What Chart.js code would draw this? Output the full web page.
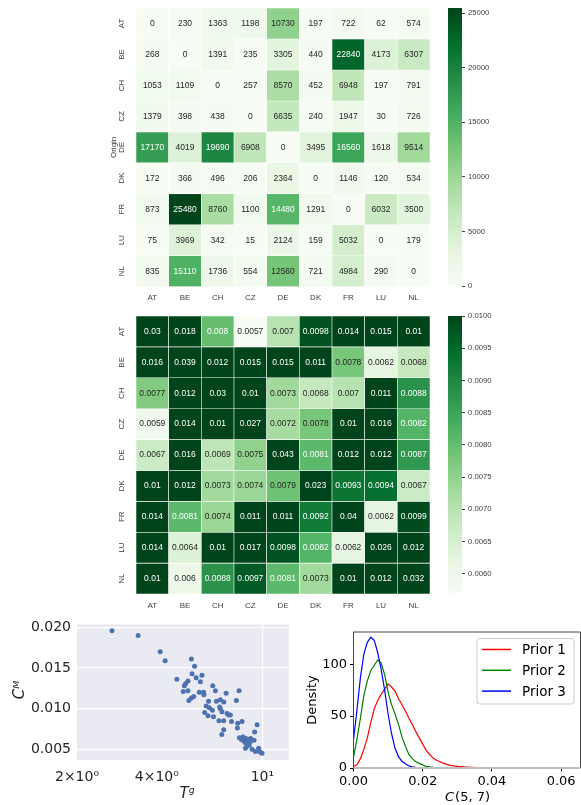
<!DOCTYPE html>
<html>
<head>
<meta charset="utf-8">
<script src="https://cdn.jsdelivr.net/npm/chart.js@4.4.0/dist/chart.umd.min.js"></script>
<style>
  body { margin: 0; background: #fff; }
  #page { position: relative; width: 581px; height: 805px; overflow: hidden; }
  #page canvas { position: absolute; }
</style>
</head>
<body>
<div id="page">
  <canvas id="flowHeat" width="340" height="305" style="left:100px;top:0px"></canvas>
  <canvas id="flowBar" width="100" height="305" style="left:440px;top:0px"></canvas>
  <canvas id="costHeat" width="340" height="310" style="left:100px;top:305px"></canvas>
  <canvas id="costBar" width="100" height="310" style="left:440px;top:305px"></canvas>
  <canvas id="scatter" width="300" height="195" style="left:0px;top:610px"></canvas>
  <canvas id="density" width="291" height="195" style="left:290px;top:610px"></canvas>
</div>
<script>
const countries = ['AT', 'BE', 'CH', 'CZ', 'DE', 'DK', 'FR', 'LU', 'NL'];

// rows = origin, columns = destination
const flowMatrix = [
  [0, 230, 1363, 1198, 10730, 197, 722, 62, 574],
  [268, 0, 1391, 235, 3305, 440, 22840, 4173, 6307],
  [1053, 1109, 0, 257, 8570, 452, 6948, 197, 791],
  [1379, 398, 438, 0, 6635, 240, 1947, 30, 726],
  [17170, 4019, 19690, 6908, 0, 3495, 16560, 1618, 9514],
  [172, 366, 496, 206, 2364, 0, 1146, 120, 534],
  [873, 25480, 8760, 1100, 14480, 1291, 0, 6032, 3500],
  [75, 3969, 342, 15, 2124, 159, 5032, 0, 179],
  [835, 15110, 1736, 554, 12560, 721, 4984, 290, 0]
];
const flowTicks = [0, 5000, 10000, 15000, 20000, 25000];

const costMatrix = [
  [0.03, 0.018, 0.008, 0.0057, 0.007, 0.0098, 0.014, 0.015, 0.01],
  [0.016, 0.039, 0.012, 0.015, 0.015, 0.011, 0.0078, 0.0062, 0.0068],
  [0.0077, 0.012, 0.03, 0.01, 0.0073, 0.0068, 0.007, 0.011, 0.0088],
  [0.0059, 0.014, 0.01, 0.027, 0.0072, 0.0078, 0.01, 0.016, 0.0082],
  [0.0067, 0.016, 0.0069, 0.0075, 0.043, 0.0081, 0.012, 0.012, 0.0087],
  [0.01, 0.012, 0.0073, 0.0074, 0.0079, 0.023, 0.0093, 0.0094, 0.0067],
  [0.014, 0.0081, 0.0074, 0.011, 0.011, 0.0092, 0.04, 0.0062, 0.0099],
  [0.014, 0.0064, 0.01, 0.017, 0.0098, 0.0082, 0.0062, 0.026, 0.012],
  [0.01, 0.006, 0.0088, 0.0097, 0.0081, 0.0073, 0.01, 0.012, 0.032]
];
const costTicks = [0.006, 0.0065, 0.007, 0.0075, 0.008, 0.0085, 0.009, 0.0095, 0.01];

// scatter: T^g vs C^M
const tgValues = [2.71, 3.40, 4.12, 4.30, 4.76, 5.40, 5.55, 5.43, 5.92, 5.63,
  5.24, 5.14, 5.08, 5.84, 5.03, 5.24, 6.50, 6.65, 5.51, 5.40,
  5.28, 5.78, 6.00, 6.02, 7.30, 8.17, 7.98, 6.27, 6.71, 6.94,
  7.15, 6.14, 6.31, 6.90, 6.94, 6.48, 7.04, 7.36, 7.46, 7.57,
  6.06, 6.24, 6.54, 6.86, 7.15, 7.65, 8.07, 8.38, 7.15, 7.03,
  8.05, 9.55, 9.35, 8.19, 8.33, 8.50, 8.67, 8.86, 9.03, 9.30,
  8.63, 8.82, 8.92, 8.75, 8.63, 9.14, 9.41, 9.68, 9.63, 9.97,
  9.83, 8.45, 9.00, 8.95];
const cmValues = [0.0196, 0.0190, 0.0170, 0.0159, 0.0136, 0.0161, 0.0152, 0.0143, 0.0141, 0.0138,
  0.0134, 0.0131, 0.0128, 0.0133, 0.0121, 0.0122, 0.0128, 0.0122, 0.0115, 0.0113,
  0.0110, 0.0120, 0.0120, 0.0117, 0.0119, 0.0122, 0.0110, 0.0109, 0.0109, 0.0111,
  0.0108, 0.0103, 0.0101, 0.0102, 0.0100, 0.0098, 0.0096, 0.0094, 0.0092, 0.0092,
  0.0095, 0.0091, 0.0090, 0.0085, 0.0085, 0.0084, 0.0082, 0.0084, 0.0074, 0.0068,
  0.0076, 0.0080, 0.0071, 0.0064, 0.0062, 0.0060, 0.0063, 0.0062, 0.0063, 0.0061,
  0.0058, 0.0057, 0.0055, 0.0054, 0.0051, 0.0050, 0.0047, 0.0051, 0.0048, 0.0045,
  0.0046, 0.0065, 0.0059, 0.0061];
const tgTicks = [2, 4, 10];
const tgTickText = ['2×10⁰', '4×10⁰', '10¹'];
const cmTicks = [0.005, 0.010, 0.015, 0.020];

// density of C(5, 7) under three priors
const densityX = [0, 0.001, 0.002, 0.003, 0.004, 0.005, 0.006, 0.007, 0.008, 0.009,
  0.010, 0.011, 0.012, 0.013, 0.014, 0.015, 0.016, 0.017, 0.018, 0.019,
  0.020, 0.021, 0.022, 0.023, 0.024, 0.025, 0.026, 0.027, 0.028, 0.029,
  0.030, 0.032, 0.034, 0.036, 0.038, 0.040, 0.045, 0.050, 0.055, 0.062];
const prior1 = [1.5, 3, 9, 18, 29, 44, 57, 65, 71, 76,
  81, 78, 74, 67, 61, 55, 48, 42, 35, 29,
  23, 17, 13, 9.5, 7.5, 6, 4.5, 3.5, 2.6, 2,
  1.5, 1, 0.7, 0.4, 0.3, 0.2, 0.1, 0.05, 0.05, 0];
const prior2 = [10, 28, 48, 70, 84, 94, 99, 104, 101, 90,
  73, 61, 52, 42, 30, 21, 13, 9, 6, 4.5,
  3, 1.5, 1, 0.6, 0.4, 0.3, 0.2, 0.2, 0.1, 0.1,
  0.1, 0.05, 0.05, 0, 0, 0];
const prior3 = [27, 56, 87, 110, 121, 126, 123, 111, 95, 75,
  52, 33, 19, 11, 6.5, 4, 2, 1.2, 0.7, 0.4,
  0.3, 0.2, 0.1, 0.1, 0.05, 0.05, 0, 0, 0, 0,
  0, 0, 0, 0, 0, 0];
const priorNames = ['Prior 1', 'Prior 2', 'Prior 3'];

const greensHex = ['#f7fcf5', '#e5f5e0', '#c7e9c0', '#a1d99b', '#74c476', '#41ab5d', '#238b45', '#006d2c', '#00441b'];

function hexRgb(h) {
  return [1, 3, 5].map(i => parseInt(h.slice(i, i + 2), 16));
}

function greens(t) {
  t = Math.max(0, Math.min(1, t));
  const s = t * 8;
  const i = Math.min(7, Math.floor(s));
  const f = s - i;
  const a = hexRgb(greensHex[i]);
  const b = hexRgb(greensHex[i + 1]);
  return a.map((v, k) => Math.round(v + (b[k] - v) * f));
}

function luminance(c) {
  const lin = c.map(v => {
    v = v / 255;
    return v <= 0.03928 ? v / 12.92 : Math.pow((v + 0.055) / 1.055, 2.4);
  });
  return 0.2126 * lin[0] + 0.7152 * lin[1] + 0.0722 * lin[2];
}

const rgb = c => `rgb(${c[0]},${c[1]},${c[2]})`;

function heatmap(id, values, vmin, vmax, fmt, top, xHeight, xPad, yTitle) {
  const colorOf = v => greens((v - vmin) / (vmax - vmin));

  const datasets = values.map((row, r) => ({
    data: row.map(() => [r, r + 1]),
    backgroundColor: row.map(v => rgb(colorOf(v))),
    borderColor: '#ffffff',
    borderWidth: 0.6,
    borderSkipped: false,
    categoryPercentage: 1,
    barPercentage: 1,
    grouped: false
  }));

  const annotate = {
    id: 'annotate',
    afterDatasetsDraw(chart) {
      const ctx = chart.ctx;
      ctx.save();
      ctx.textAlign = 'center';
      ctx.textBaseline = 'middle';
      ctx.font = '8.5px "Liberation Sans", Arial, sans-serif';
      values.forEach((row, r) => {
        const meta = chart.getDatasetMeta(r);
        row.forEach((v, c) => {
          const p = meta.data[c].getCenterPoint();
          ctx.fillStyle = luminance(colorOf(v)) > 0.408 ? '#262626' : '#ffffff';
          ctx.fillText(fmt(v), p.x, p.y);
        });
      });
      // rotated row labels
      const ys = chart.scales.y;
      const x = chart.chartArea.left - 14;
      ctx.fillStyle = '#404040';
      ctx.font = '8px "Liberation Sans", Arial, sans-serif';
      countries.forEach((lab, r) => {
        ctx.save();
        ctx.translate(x, ys.getPixelForValue(r + 0.5));
        ctx.rotate(-Math.PI / 2);
        ctx.fillText(lab, 0, 0);
        ctx.restore();
      });
      if (yTitle) {
        ctx.save();
        ctx.translate(x - 8, ys.getPixelForValue(4.5));
        ctx.rotate(-Math.PI / 2);
        ctx.fillText(yTitle, 0, 0);
        ctx.restore();
      }
      ctx.restore();
    }
  };

  return new Chart(document.getElementById(id), {
    type: 'bar',
    data: { labels: countries, datasets },
    options: {
      responsive: false,
      animation: false,
      devicePixelRatio: 1,
      layout: { padding: { top: top, right: 10, left: 0, bottom: 0 } },
      plugins: { legend: { display: false }, tooltip: { enabled: false } },
      scales: {
        x: {
          grid: { display: false, drawTicks: false },
          border: { display: false },
          ticks: {
            font: { family: 'Liberation Sans', size: 8 },
            color: '#404040',
            padding: xPad,
            maxRotation: 0
          },
          afterFit: s => { s.height = xHeight; }
        },
        y: {
          min: 0,
          max: 9,
          reverse: true,
          grid: { display: false, drawTicks: false },
          border: { display: false },
          ticks: { display: false },
          afterFit: s => { s.width = 36; }
        }
      }
    },
    plugins: [annotate]
  });
}

function colorbar(id, vmin, vmax, ticks, fmt, top, bottom) {
  return new Chart(document.getElementById(id), {
    type: 'bar',
    data: {
      labels: [''],
      datasets: [{
        data: [[vmin, vmax]],
        backgroundColor: c => {
          const a = c.chart.chartArea;
          if (!a) return greensHex[0];
          const g = c.chart.ctx.createLinearGradient(0, a.bottom, 0, a.top);
          greensHex.forEach((h, i) => g.addColorStop(i / 8, h));
          return g;
        },
        borderWidth: 0,
        categoryPercentage: 1,
        barPercentage: 1
      }]
    },
    options: {
      responsive: false,
      animation: false,
      devicePixelRatio: 1,
      layout: { padding: { top: top, bottom: bottom, left: 8, right: 0 } },
      plugins: { legend: { display: false }, tooltip: { enabled: false } },
      scales: {
        x: { display: false },
        y: {
          position: 'right',
          min: vmin,
          max: vmax,
          grid: { drawOnChartArea: false, drawTicks: true, tickLength: 3, color: '#404040' },
          border: { display: false },
          ticks: {
            font: { family: 'Liberation Sans', size: 7.7 },
            color: '#404040',
            padding: 3,
            callback: fmt
          },
          afterBuildTicks: s => { s.ticks = ticks.map(v => ({ value: v })); },
          afterFit: s => { s.width = 78; }
        }
      }
    }
  });
}

heatmap('flowHeat', flowMatrix, 0, 25480, v => String(v), 8, 18.3, 6, 'Origin');
colorbar('flowBar', 0, 25480, flowTicks, v => String(v), 8, 19);

heatmap('costHeat', costMatrix, 0.0057, 0.01, v => String(v), 11, 21, 7, null);
colorbar('costBar', 0.0057, 0.01, costTicks, v => v.toFixed(4), 11, 22);

// --- scatter, seaborn darkgrid look ---
const darkBg = {
  id: 'darkBg',
  beforeDraw(chart) {
    const { ctx, chartArea: a } = chart;
    ctx.save();
    ctx.fillStyle = '#eaeaf2';
    ctx.fillRect(a.left, a.top, a.right - a.left, a.bottom - a.top);
    ctx.restore();
  }
};

const scatterTitles = {
  id: 'scatterTitles',
  afterDraw(chart) {
    const ctx = chart.ctx;
    ctx.save();
    ctx.fillStyle = '#262626';
    ctx.font = 'italic 15px "DejaVu Sans"';
    ctx.textAlign = 'center';
    ctx.textBaseline = 'middle';
    ctx.fillText('Tᵍ', 187, 184);
    ctx.translate(20, 80);
    ctx.rotate(-Math.PI / 2);
    ctx.fillText('Cᴹ', 0, 0);
    ctx.restore();
  }
};

new Chart(document.getElementById('scatter'), {
  type: 'scatter',
  data: {
    datasets: [{
      data: tgValues.map((x, i) => ({ x, y: cmValues[i] })),
      backgroundColor: '#4c72b0',
      borderColor: '#4c72b0',
      borderWidth: 0,
      pointRadius: 2.5
    }]
  },
  options: {
    responsive: false,
    animation: false,
    devicePixelRatio: 1,
    layout: { padding: { top: 13, right: 11, left: 0, bottom: 0 } },
    plugins: { legend: { display: false }, tooltip: { enabled: false } },
    scales: {
      x: {
        type: 'logarithmic',
        min: 2,
        max: 12.6,
        afterBuildTicks: s => { s.ticks = tgTicks.map(v => ({ value: v })); },
        ticks: {
          callback: (v, i) => tgTickText[i],
          font: { family: 'DejaVu Sans', size: 14 },
          color: '#262626',
          padding: 9,
          autoSkip: false,
          maxRotation: 0
        },
        grid: {
          color: c => (c.tick && c.tick.value === 10) ? '#ffffff' : 'rgba(0,0,0,0)',
          lineWidth: 1.2,
          drawTicks: false
        },
        border: { display: false },
        afterFit: s => { s.height = 45; }
      },
      y: {
        min: 0.00366,
        max: 0.02037,
        afterBuildTicks: s => { s.ticks = cmTicks.map(v => ({ value: v })); },
        ticks: {
          callback: v => v.toFixed(3),
          font: { family: 'DejaVu Sans', size: 14 },
          color: '#262626',
          padding: 6
        },
        grid: { color: '#ffffff', lineWidth: 1.2, drawTicks: false },
        border: { display: false },
        afterFit: s => { s.width = 77; }
      }
    }
  },
  plugins: [darkBg, scatterTitles]
});

// --- density plot, plain matplotlib look ---
const priorColors = ['#ff0000', '#008000', '#0000ff'];
const priorSeries = [prior1, prior2, prior3];

const densityDecor = {
  id: 'densityDecor',
  afterDraw(chart) {
    const { ctx, chartArea: a } = chart;
    ctx.save();
    // spines
    ctx.strokeStyle = '#444';
    ctx.lineWidth = 1;
    ctx.beginPath();
    ctx.moveTo(a.left, a.bottom);
    ctx.lineTo(a.left, a.top);
    ctx.lineTo(a.right, a.top);
    ctx.lineTo(a.right, a.bottom);
    ctx.stroke();
    ctx.strokeStyle = '#bdbdbd';
    ctx.lineWidth = 2;
    ctx.beginPath();
    ctx.moveTo(a.left, a.bottom);
    ctx.lineTo(a.right, a.bottom);
    ctx.stroke();

    // axis titles
    ctx.fillStyle = '#000';
    ctx.textBaseline = 'middle';
    ctx.font = '13px "DejaVu Sans"';
    ctx.textAlign = 'center';
    ctx.save();
    ctx.translate(23, (a.top + a.bottom) / 2);
    ctx.rotate(-Math.PI / 2);
    ctx.fillText('Density', 0, 0);
    ctx.restore();
    ctx.font = 'italic 13px "DejaVu Sans"';
    const wC = ctx.measureText('C').width;
    ctx.font = '13px "DejaVu Sans"';
    const wRest = ctx.measureText('(5, 7)').width;
    const x0 = (a.left + a.right) / 2 - (wC + wRest) / 2;
    ctx.textAlign = 'left';
    ctx.font = 'italic 13px "DejaVu Sans"';
    ctx.fillText('C', x0, 188);
    ctx.font = '13px "DejaVu Sans"';
    ctx.fillText('(5, 7)', x0 + wC + 1, 188);

    // legend box
    const bx = 187, by = 28.5, bw = 97, bh = 65.5;
    ctx.fillStyle = 'rgba(255,255,255,0.8)';
    ctx.strokeStyle = '#cccccc';
    ctx.lineWidth = 1;
    ctx.beginPath();
    ctx.roundRect(bx, by, bw, bh, 3);
    ctx.fill();
    ctx.stroke();
    ctx.font = '13.5px "DejaVu Sans"';
    chart.data.datasets.forEach((ds, i) => {
      const y = 39.5 + i * 20.8;
      ctx.strokeStyle = ds.borderColor;
      ctx.lineWidth = 1.5;
      ctx.beginPath();
      ctx.moveTo(192, y);
      ctx.lineTo(221, y);
      ctx.stroke();
      ctx.fillStyle = '#000';
      ctx.fillText(ds.label, 232, y + 1);
    });
    ctx.restore();
  }
};

new Chart(document.getElementById('density'), {
  type: 'line',
  data: {
    datasets: priorSeries.map((s, i) => ({
      label: priorNames[i],
      data: s.map((y, k) => ({ x: densityX[k], y })),
      borderColor: priorColors[i],
      borderWidth: 1.2,
      pointRadius: 0,
      tension: 0,
      fill: false,
      order: 3 - i
    }))
  },
  options: {
    responsive: false,
    animation: false,
    devicePixelRatio: 1,
    layout: { padding: { top: 22, right: 0.5, left: 0, bottom: 0 } },
    plugins: { legend: { display: false }, tooltip: { enabled: false } },
    scales: {
      x: {
        type: 'linear',
        min: 0,
        max: 0.0656,
        afterBuildTicks: s => { s.ticks = [0, 0.02, 0.04, 0.06].map(v => ({ value: v })); },
        ticks: {
          callback: v => v.toFixed(2),
          font: { family: 'DejaVu Sans', size: 13 },
          color: '#000',
          padding: 2,
          maxRotation: 0,
          autoSkip: false
        },
        grid: { drawOnChartArea: false, drawTicks: true, tickLength: 3.5, color: '#000' },
        border: { display: false },
        afterFit: s => { s.height = 37; }
      },
      y: {
        min: 0,
        max: 131,
        afterBuildTicks: s => { s.ticks = [0, 50, 100].map(v => ({ value: v })); },
        ticks: {
          font: { family: 'DejaVu Sans', size: 13 },
          color: '#000',
          padding: 3
        },
        grid: { drawOnChartArea: false, drawTicks: true, tickLength: 3.5, color: '#000' },
        border: { display: false },
        afterFit: s => { s.width = 63.5; }
      }
    }
  },
  plugins: [densityDecor]
});
</script>
</body>
</html>
